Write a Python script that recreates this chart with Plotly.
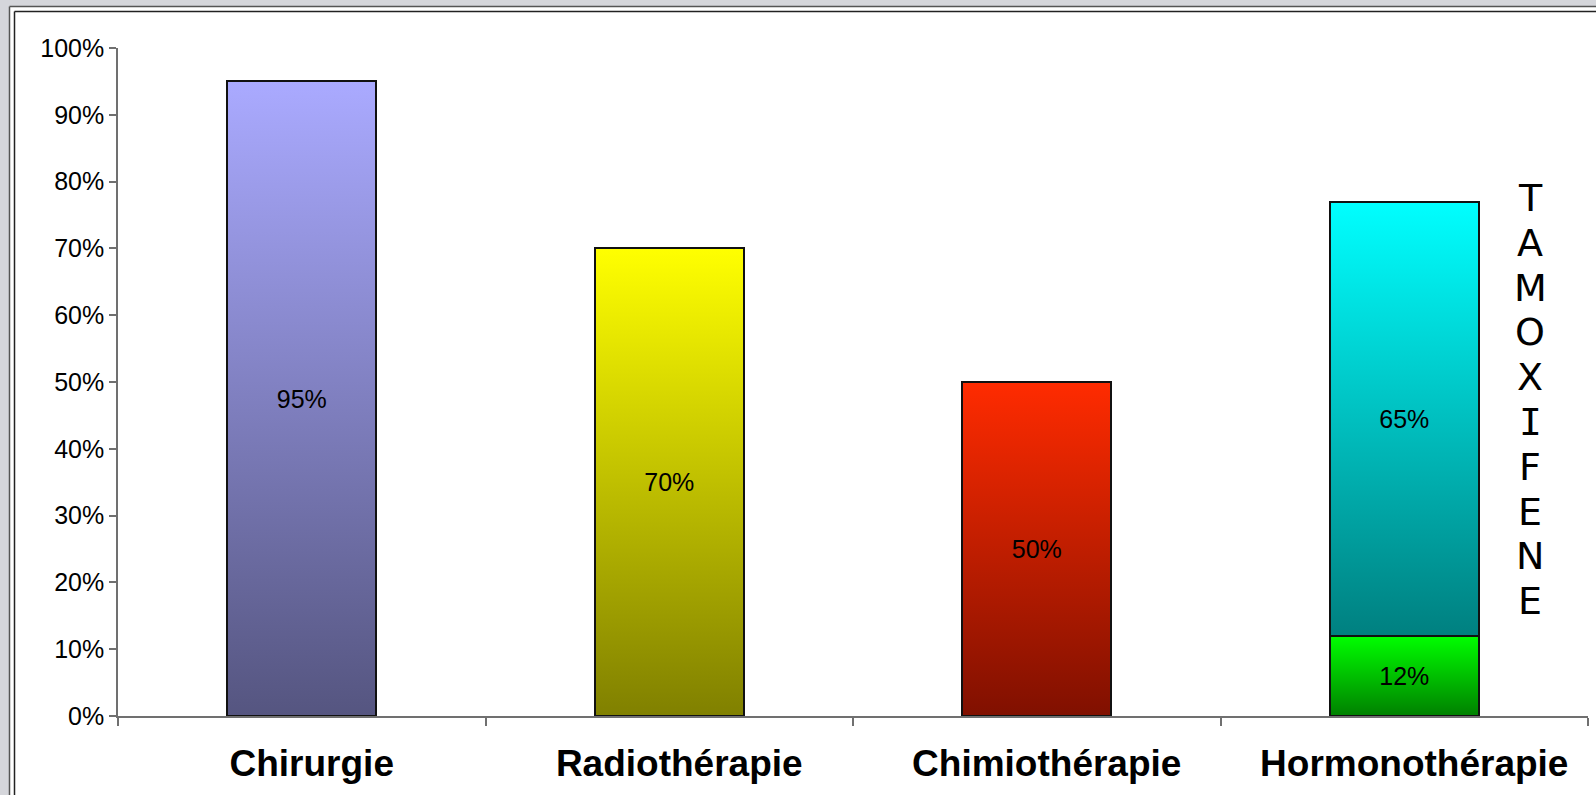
import base64
import plotly.graph_objects as go

# Treatment categories and share of patients (%)
CATEGORIES = ["Chirurgie", "Radiothérapie", "Chimiothérapie", "Hormonothérapie"]
BASE_VALUES = [95, 70, 50, 12]          # first stacked segment
TAMOX_VALUES = [None, None, None, 65]   # tamoxifene segment, hormonotherapy only
SIDE_LABEL = "TAMOXIFENE"
Y_TICKS = [0, 10, 20, 30, 40, 50, 60, 70, 80, 90, 100]
Y_TICK_TEXT = [f"{v}%" for v in Y_TICKS]

# Gradient colours (top -> bottom) of each bar segment
BASE_TOP = ["#AAAAFF", "#FFFF00", "#FF2B00", "#00FF00"]
BASE_BOTTOM = ["#555580", "#808000", "#801000", "#008000"]
TAMOX_TOP = "#00FFFF"
TAMOX_BOTTOM = "#008080"

W, H = 1596, 795
ML, MR, MT, MB = 118, 8, 48, 79
PW, PH = W - ML - MR, H - MT - MB
BAR_W = 0.405
FONT = "Liberation Sans, Arial, sans-serif"


def px_x(px):
    return (px - ML) / PW


def px_y(py):
    return (H - MB - py) / PH


def gradient(top, bottom):
    svg = (
        '<svg xmlns="http://www.w3.org/2000/svg" width="10" height="100" '
        'viewBox="0 0 10 100" preserveAspectRatio="none">'
        '<defs><linearGradient id="g" x1="0" y1="0" x2="0" y2="1">'
        f'<stop offset="0" stop-color="{top}"/><stop offset="1" stop-color="{bottom}"/>'
        '</linearGradient></defs>'
        '<rect width="10" height="100" fill="url(#g)"/></svg>'
    )
    return "data:image/svg+xml;base64," + base64.b64encode(svg.encode()).decode()


xs = list(range(len(CATEGORIES)))
bar_style = dict(color="rgba(0,0,0,0)", line=dict(color="#111111", width=2))
text_style = dict(family=FONT, size=25, color="black")

fig = go.Figure()
fig.add_trace(go.Bar(
    x=xs, y=BASE_VALUES, width=BAR_W, marker=bar_style,
    text=[f"{v}%" for v in BASE_VALUES], textposition="inside",
    insidetextanchor="middle", textangle=0, insidetextfont=text_style,
    hoverinfo="skip", showlegend=False,
))
fig.add_trace(go.Bar(
    x=xs, y=TAMOX_VALUES, width=BAR_W, marker=bar_style,
    text=[f"{v}%" if v is not None else "" for v in TAMOX_VALUES],
    textposition="inside", insidetextanchor="middle", textangle=0,
    insidetextfont=text_style, hoverinfo="skip", showlegend=False,
))

# Gradient fills laid under the outlined bars
images = []
for i, v in enumerate(BASE_VALUES):
    images.append(dict(
        source=gradient(BASE_TOP[i], BASE_BOTTOM[i]), xref="x", yref="y",
        x=xs[i], y=v, sizex=BAR_W, sizey=v, xanchor="center", yanchor="top",
        sizing="stretch", layer="below",
    ))
for i, v in enumerate(TAMOX_VALUES):
    if v is None:
        continue
    top = BASE_VALUES[i] + v
    images.append(dict(
        source=gradient(TAMOX_TOP, TAMOX_BOTTOM), xref="x", yref="y",
        x=xs[i], y=top, sizex=BAR_W, sizey=v, xanchor="center", yanchor="top",
        sizing="stretch", layer="below",
    ))

# Window frame around the chart
shapes = [
    dict(type="rect", xref="paper", yref="paper", x0=px_x(0), x1=px_x(9),
         y0=px_y(H), y1=px_y(0), fillcolor="#D5D6DB", line=dict(width=0)),
    dict(type="rect", xref="paper", yref="paper", x0=px_x(0), x1=px_x(W),
         y0=px_y(6), y1=px_y(0), fillcolor="#D5D6DB", line=dict(width=0)),
    dict(type="line", xref="paper", yref="paper", x0=px_x(9.5), x1=px_x(9.5),
         y0=px_y(6.5), y1=px_y(H), line=dict(color="#555555", width=1.5)),
    dict(type="line", xref="paper", yref="paper", x0=px_x(9.5), x1=px_x(W),
         y0=px_y(6.5), y1=px_y(6.5), line=dict(color="#555555", width=1.5)),
    dict(type="line", xref="paper", yref="paper", x0=px_x(14.5), x1=px_x(14.5),
         y0=px_y(11.5), y1=px_y(H), line=dict(color="#222222", width=1.5)),
    dict(type="line", xref="paper", yref="paper", x0=px_x(14.5), x1=px_x(W),
         y0=px_y(11.5), y1=px_y(11.5), line=dict(color="#222222", width=1.5)),
]

# Vertical side label, one letter per line
annotations = []
for k, ch in enumerate(SIDE_LABEL):
    annotations.append(dict(
        text=ch, xref="paper", yref="paper", x=px_x(1530), y=px_y(198 + k * 44.8),
        xanchor="center", yanchor="middle", showarrow=False,
        font=dict(family="DejaVu Sans Mono" if ch == "I" else "DejaVu Sans",
                  size=38, color="black"),
    ))

axis_grey = "#707070"
fig.update_layout(
    width=W, height=H, autosize=False,
    margin=dict(l=ML, r=MR, t=MT, b=MB, pad=0),
    paper_bgcolor="white", plot_bgcolor="white",
    barmode="stack", images=images, shapes=shapes, annotations=annotations,
    xaxis=dict(
        range=[-0.5, 3.5], tickmode="array", tickvals=xs, ticktext=CATEGORIES,
        ticks="", showgrid=False, zeroline=False, showline=True, automargin=False,
        linecolor=axis_grey, linewidth=1.5,
        tickfont=dict(family=FONT, size=37, color="black", weight="bold"),
        ticklabelshift=10, ticklabelstandoff=14,
        minor=dict(tickmode="array", tickvals=[-0.5, 0.5, 1.5, 2.5, 3.5],
                   ticks="outside", ticklen=8, tickwidth=1.5, tickcolor=axis_grey,
                   showgrid=False),
    ),
    yaxis=dict(
        range=[0, 100], tickmode="array", tickvals=Y_TICKS, ticktext=Y_TICK_TEXT,
        ticks="outside", ticklen=7, tickwidth=1.5, tickcolor=axis_grey,
        showgrid=False, zeroline=False, showline=True, linecolor=axis_grey,
        linewidth=1.5, automargin=False,
        tickfont=dict(family=FONT, size=25, color="black"),
        ticklabelstandoff=0,
    ),
)

fig.write_html("out.html")
